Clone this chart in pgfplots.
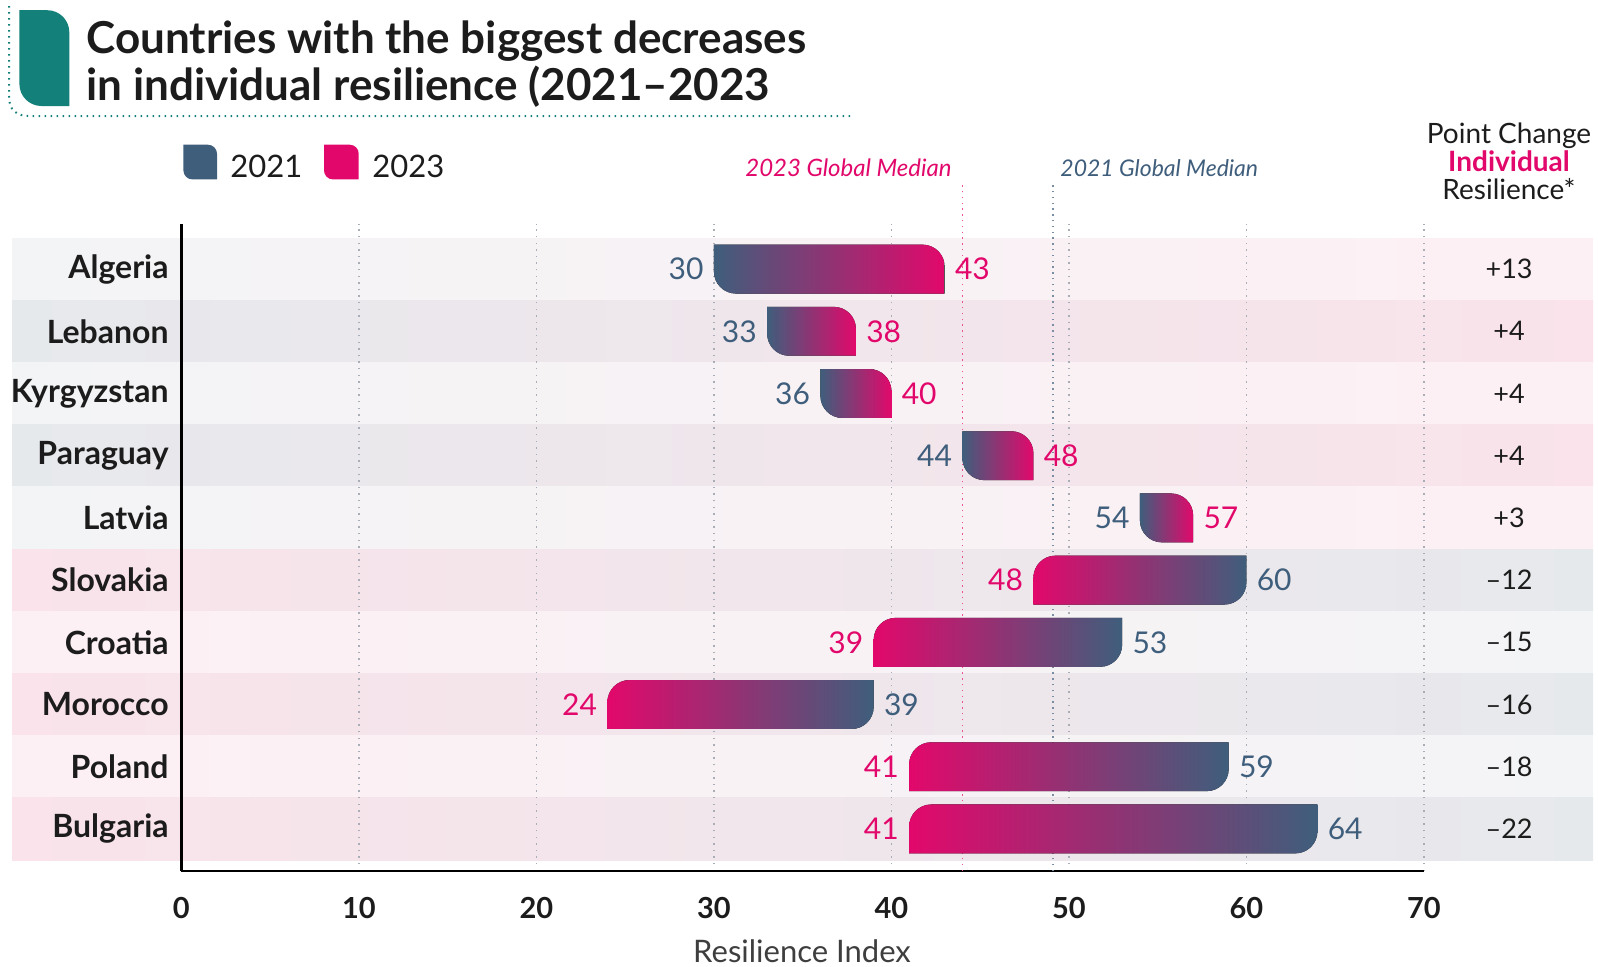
\documentclass[border=0pt]{standalone}
\usepackage{fontspec}
\setmainfont{Lato}
\usepackage{pgfplots}
\usepackage{pgfplotstable}
\pgfplotsset{compat=1.18}
\definecolor{cA}{HTML}{3F5E7C}
\definecolor{cB}{HTML}{E2086B}
\definecolor{cT}{HTML}{13807A}
\definecolor{gL}{HTML}{F3F4F6}
\definecolor{gD}{HTML}{E6E9EC}
\definecolor{pL}{HTML}{FDF0F4}
\definecolor{pD}{HTML}{FAE3EB}
\definecolor{gridc}{HTML}{A9AEB6}
\definecolor{txt}{HTML}{1C1C1C}

\newcommand\valfont{\fontsize{15}{15}\selectfont}
\newcommand\catfont{\fontsize{16}{16}\selectfont\bfseries}
\newcommand\chgfont{\fontsize{13.5}{15}\selectfont}

\pgfplotstableread{
y country v21 v23 chg
9 Algeria 30 43 13
8 Lebanon 33 38 4
7 Kyrgyzstan 36 40 4
6 Paraguay 44 48 4
5 Latvia 54 57 3
4 Slovakia 60 48 -12
3 Croatia 53 39 -15
2 Morocco 39 24 -16
1 Poland 59 41 -18
0 Bulgaria 64 41 -22
}\datatable

\newcommand\drawrow{%
  \pgfmathtruncatemacro\s{\vb>\va ? 1 : -1}%
  \pgfmathsetmacro\tp{\ry+0.393}%
  \pgfmathsetmacro\bt{\ry-0.393}%
  \pgfmathsetmacro\ta{\vb-\s*1.24}%
  \pgfmathsetmacro\tca{\vb-\s*1.24*0.448}%
  \pgfmathsetmacro\tb{\tp-0.354}%
  \pgfmathsetmacro\tcb{\tp-0.354*0.448}%
  \pgfmathsetmacro\ba{\va+\s*1.24}%
  \pgfmathsetmacro\bca{\va+\s*1.24*0.448}%
  \pgfmathsetmacro\bb{\bt+0.354}%
  \pgfmathsetmacro\bcb{\bt+0.354*0.448}%
  \pgfmathsetmacro\lo{\ry-0.5}%
  \pgfmathsetmacro\hi{\ry+0.5}%
  \pgfmathtruncatemacro\odd{mod(\ry,2)}%
  \ifnum\odd=1 \def\gc{gL}\def\pc{pL}\else\def\gc{gD}\def\pc{pD}\fi
  \ifnum\s>0 \let\lc\gc\let\rc\pc\def\la{cA}\def\lb{cB}\def\aanc{east}\def\banc{west}\def\ash{-5pt}\def\bsh{5pt}%
  \else\let\lc\pc\let\rc\gc\def\la{cB}\def\lb{cA}\def\aanc{west}\def\banc{east}\def\ash{5pt}\def\bsh{-5pt}\fi
  \pgfmathtruncatemacro\ab{abs(\vc)}%
  \ifnum\vc>0 \def\chtxt{+\ab}\else\def\chtxt{–\ab}\fi
  \edef\doit{%
    \noexpand\addplot[on layer=axis background, draw=none, left color=\lc, right color=\rc, forget plot] coordinates {(-9.53,\lo) (79.53,\lo) (79.53,\hi) (-9.53,\hi)} --cycle;
    \noexpand\fill[left color=\la, right color=\lb] (axis cs:\va,\tp) -- (axis cs:\ta,\tp) .. controls (axis cs:\tca,\tp) and (axis cs:\vb,\tcb) .. (axis cs:\vb,\tb) -- (axis cs:\vb,\bt) -- (axis cs:\ba,\bt) .. controls (axis cs:\bca,\bt) and (axis cs:\va,\bcb) .. (axis cs:\va,\bb) -- cycle;
    \noexpand\node[anchor=\aanc, text=cA, font=\noexpand\valfont, inner sep=0pt, xshift=\ash] at (axis cs:\va,\ry) {\va};
    \noexpand\node[anchor=\banc, text=cB, font=\noexpand\valfont, inner sep=0pt, xshift=\bsh] at (axis cs:\vb,\ry) {\vb};
    \noexpand\node[anchor=east, text=txt, font=\noexpand\catfont, inner sep=0pt] at (axis cs:-0.7,\ry) {\cty};
    \noexpand\node[anchor=center, text=txt, font=\noexpand\chgfont, inner sep=0pt] at (axis cs:74.8,\ry) {\chtxt};
  }\doit
}

\newcommand\leafpx[5]{% x0 y0 x1 y1 r (pixel coords, y down)
  ({#1},{#2}) -- ({#3-#5},{#2}) .. controls ({#3-#5*0.448},{#2}) and ({#3},{#2+#5*0.448}) .. ({#3},{#2+#5})
  -- ({#3},{#4}) -- ({#1+#5},{#4}) .. controls ({#1+#5*0.448},{#4}) and ({#1},{#4-#5*0.448}) .. ({#1},{#4-#5}) -- cycle}

\begin{document}
\begin{tikzpicture}
\begin{axis}[
  set layers,
  at={(90.7pt,-435.5pt)}, anchor=south west,
  x=8.875pt, y=31.1pt,
  xmin=0, xmax=70, ymin=-0.677, ymax=9.725,
  clip=false,
  axis x line=bottom, axis y line=left,
  axis line style={-, line width=1.4pt, black},
  xtick={0,10,...,70}, ytick=\empty,
  major tick length=0pt,
  xmajorgrids,
  grid style={gridc, line width=0.7pt, dash pattern=on 0.7pt off 2.6pt},
  xticklabel style={font=\fontsize{14.5}{15}\selectfont\bfseries, text=txt, inner sep=0pt, yshift=-13pt},
  /pgf/number format/assume math mode=true,
]
\addplot[cB!70, line width=0.8pt, dash pattern=on 0.7pt off 2.2pt, forget plot] coordinates {(44,-0.677) (44,10.35)};
\addplot[cA!70, line width=0.8pt, dash pattern=on 0.7pt off 2.2pt, forget plot] coordinates {(49.1,-0.677) (49.1,10.35)};
\pgfplotsforeachungrouped \i in {0,...,9}{%
  \pgfplotstablegetelem{\i}{y}\of\datatable \let\ry\pgfplotsretval
  \pgfplotstablegetelem{\i}{country}\of\datatable \let\cty\pgfplotsretval
  \pgfplotstablegetelem{\i}{v21}\of\datatable \let\va\pgfplotsretval
  \pgfplotstablegetelem{\i}{v23}\of\datatable \let\vb\pgfplotsretval
  \pgfplotstablegetelem{\i}{chg}\of\datatable \let\vc\pgfplotsretval
  \drawrow
}
\end{axis}
\begin{scope}[x=0.5pt,y=-0.5pt]
% title block
\fill[cT] \leafpx{19.4}{10.2}{69.3}{106}{22};
\draw[cT, line width=1pt, dash pattern=on 0.8pt off 2.2pt] (9,6) -- (9,96) .. controls (9,110) and (16,116) .. (30,116) -- (851,116);
\node[anchor=base west, inner sep=0pt, font=\fontsize{22}{24}\selectfont\bfseries, text=txt] at (86,53) {Countries with the biggest decreases};
\node[anchor=base west, inner sep=0pt, font=\fontsize{22}{24}\selectfont\bfseries, text=txt] at (86,100) {in individual resilience (2021–2023};
% legend
\fill[cA] \leafpx{183.4}{144.7}{217}{179.4}{9};
\node[anchor=base west, inner sep=0pt, font=\fontsize{15.5}{16}\selectfont, text=txt] at (230,177) {2021};
\fill[cB] \leafpx{324}{144.7}{358.7}{179.4}{9};
\node[anchor=base west, inner sep=0pt, font=\fontsize{15.5}{16}\selectfont, text=txt] at (372,177) {2023};
% median labels
\node[anchor=base east, inner sep=0pt, font=\fontsize{12}{12}\selectfont\itshape, text=cB] at (952,176) {2023 Global Median};
\node[anchor=base west, inner sep=0pt, font=\fontsize{11.5}{12}\selectfont\itshape, text=cA] at (1060,176) {2021 Global Median};
% header of right column
\node[anchor=base, inner sep=0pt, font=\fontsize{14}{14}\selectfont, text=txt] at (1509,143) {Point Change};
\node[anchor=base, inner sep=0pt, font=\fontsize{14}{14}\selectfont\bfseries, text=cB] at (1509,171) {Individual};
\node[anchor=base, inner sep=0pt, font=\fontsize{14}{14}\selectfont, text=txt] at (1509,199) {Resilience*};
% x label
\node[anchor=base, inner sep=0pt, font=\fontsize{15.5}{16}\selectfont, text=txt!85] at (802,962) {Resilience Index};
\pgfresetboundingbox
\path[use as bounding box] (0,0) rectangle (1598,966);
\end{scope}
\end{tikzpicture}
\end{document}
